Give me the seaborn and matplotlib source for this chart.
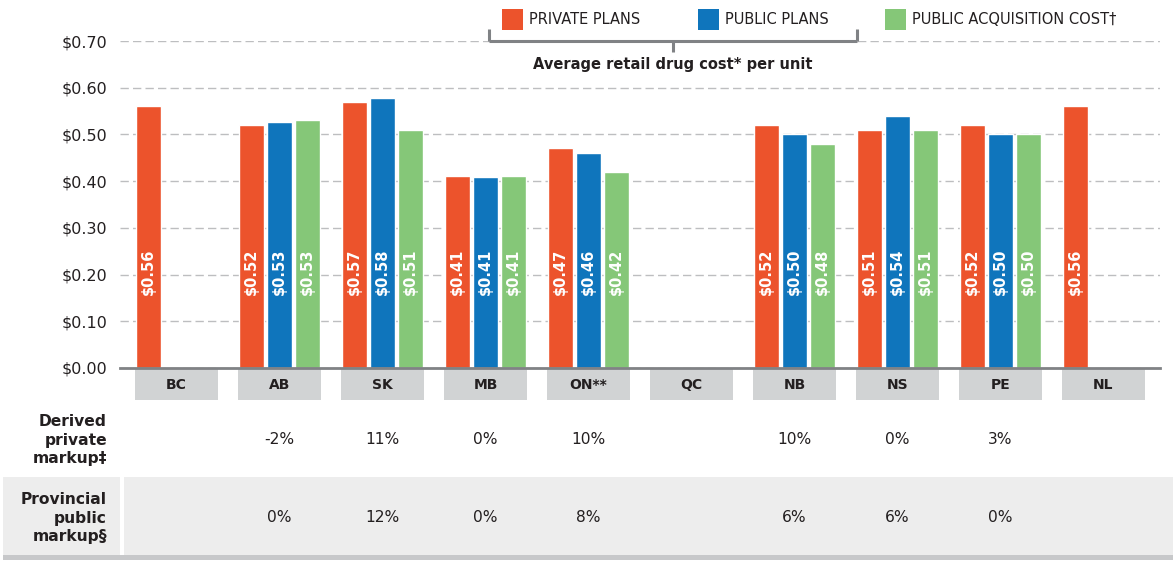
import numpy as np
import pandas as pd
import matplotlib
matplotlib.use("Agg")
import matplotlib.pyplot as plt
import matplotlib.transforms as mtransforms
from matplotlib.patches import Rectangle
from matplotlib.lines import Line2D
import seaborn as sns

provinces = ["BC", "AB", "SK", "MB", "ON**", "QC", "NB", "NS", "PE", "NL"]
series = ["PRIVATE PLANS", "PUBLIC PLANS", "PUBLIC ACQUISITION COST\u2020"]
private_plans = [0.56, 0.52, 0.57, 0.41, 0.47, np.nan, 0.52, 0.51, 0.52, 0.56]
public_plans = [np.nan, 0.527, 0.578, 0.408, 0.46, np.nan, 0.50, 0.54, 0.50, np.nan]
public_acq = [np.nan, 0.531, 0.51, 0.41, 0.42, np.nan, 0.48, 0.51, 0.50, np.nan]
private_markup = ["", "-2%", "11%", "0%", "10%", "", "10%", "0%", "3%", ""]
public_markup = ["", "0%", "12%", "0%", "8%", "", "6%", "6%", "0%", ""]
row_labels = ["Derived\nprivate\nmarkup\u2021", "Provincial\npublic\nmarkup\u00a7"]
yticks = [0.0, 0.1, 0.2, 0.3, 0.4, 0.5, 0.6, 0.7]

colors = ["#EC532C", "#0F75BC", "#85C778"]
dark = "#231F20"
grey = "#808285"

df = pd.DataFrame({
    "province": provinces * 3,
    "series": [s for s in series for _ in provinces],
    "value": private_plans + public_plans + public_acq,
})

sns.set_theme(style="white")
plt.rcParams["font.family"] = ["DejaVu Sans"]

W, H = 1173, 565
fig = plt.figure(figsize=(W / 100, H / 100), dpi=100)


def fx(px):
    return px / W


def fy(py):
    return 1 - py / H


ax = fig.add_axes([fx(120), fy(368), fx(1160) - fx(120), fy(41) - fy(368)])
ax.patch.set_alpha(0)
sns.barplot(data=df.dropna(), x="province", y="value", hue="series",
            order=provinces, hue_order=series, palette=colors, saturation=1,
            width=0.82, gap=0.1, errorbar=None, legend=False, ax=ax)

ax.set_xlim(-0.55, 9.55)
ax.set_ylim(0, 0.70)
ax.set_yticks(yticks)
ax.set_yticklabels([f"${v:.2f}" for v in yticks], fontsize=11.5, color=dark)
ax.set_xlabel("")
ax.set_ylabel("")
ax.set_xticks([i + 0.5 for i in range(9)] + [9.54])
ax.set_xticklabels([])
ax.tick_params(axis="x", direction="in", length=6, width=2, color=grey)
ax.tick_params(axis="y", length=0, pad=9)
ax.set_axisbelow(True)
ax.yaxis.grid(True, linestyle=(0, (6, 3)), color="#BDBEC0", linewidth=1)
for side in ["left", "right", "top"]:
    ax.spines[side].set_visible(False)
ax.spines["bottom"].set_color(grey)
ax.spines["bottom"].set_linewidth(2)

# value labels inside bars
for cont in ax.containers:
    for bar in cont:
        h = bar.get_height()
        if np.isnan(h) or h == 0:
            continue
        ax.text(bar.get_x() + bar.get_width() / 2, 0.205, f"${h:.2f}",
                rotation=90, ha="center", va="center", color="white",
                fontsize=10.5, fontweight="bold")

# category label boxes under the axis
xt = ax.get_xaxis_transform()
for i, p in enumerate(provinces):
    ax.add_patch(Rectangle((i - 0.403, -0.098), 0.806, 0.094, transform=xt,
                           facecolor="#D1D3D4", edgecolor="none", clip_on=False))
    ax.text(i, -0.051, p, transform=xt, ha="center", va="center",
            fontsize=10, fontweight="bold", color=dark)

# table rows (behind the axes)
for x0, x1, y0, y1, c in [(3, 120, 555, 477, "#EDEDED"),
                          (124, W, 555, 477, "#EDEDED"),
                          (3, W, 560, 555, "#C7C8CA")]:
    fig.add_artist(Rectangle((fx(x0), fy(y0)), fx(x1) - fx(x0), fy(y1) - fy(y0),
                             transform=fig.transFigure, facecolor=c,
                             edgecolor="none", zorder=-1))

bt = mtransforms.blended_transform_factory(ax.transData, fig.transFigure)
for row_y, label, vals in [(440, row_labels[0], private_markup),
                           (518, row_labels[1], public_markup)]:
    fig.text(fx(107), fy(row_y), label, ha="right", va="center", fontsize=11.2,
             fontweight="bold", color=dark, linespacing=1.3)
    for i, v in enumerate(vals):
        if v:
            ax.text(i, fy(row_y), v, transform=bt, ha="center", va="center",
                    fontsize=11.2, color=dark, clip_on=False)

# legend
for x0, lab, c in zip([502, 698, 885], series, colors):
    fig.add_artist(Rectangle((fx(x0), fy(30)), fx(21), fy(9) - fy(30),
                             transform=fig.transFigure, facecolor=c, edgecolor="none"))
    fig.text(fx(x0 + 27), fy(19.5), lab, ha="left", va="center",
             fontsize=10.5, color=dark)

# bracket
for xs, ys in [([489, 857], [41, 41]), ([489, 489], [29, 41]),
               ([857, 857], [29, 41]), ([673, 673], [41, 52])]:
    fig.add_artist(Line2D([fx(x) for x in xs], [fy(y) for y in ys],
                          transform=fig.transFigure, color=grey, linewidth=2.2,
                          solid_capstyle="butt"))
fig.text(fx(673), fy(64), "Average retail drug cost* per unit", ha="center",
         va="center", fontsize=10.5, fontweight="bold", color=dark)

fig.savefig("out.png", dpi=100)
